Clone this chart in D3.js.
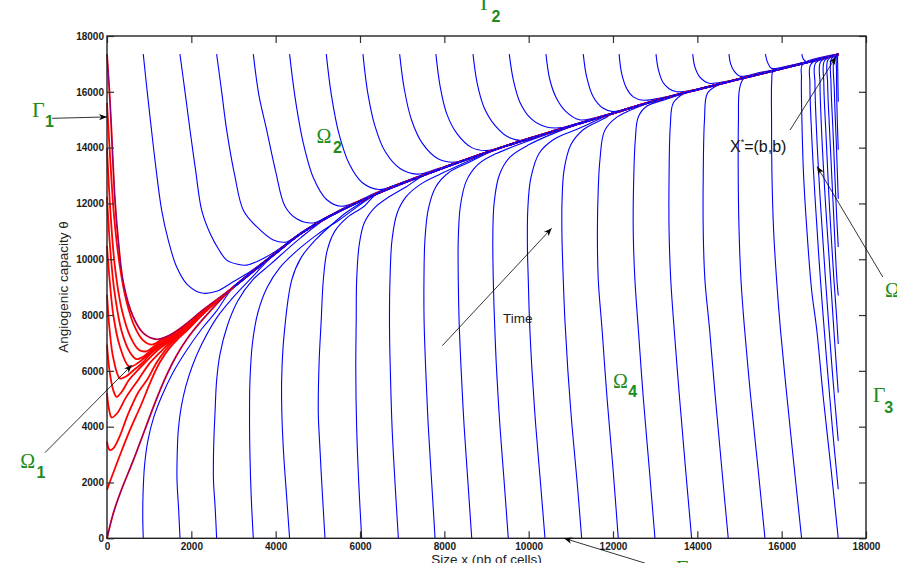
<!DOCTYPE html>
<html>
<head>
<meta charset="utf-8">
<script src="https://cdnjs.cloudflare.com/ajax/libs/d3/7.8.5/d3.min.js"></script>
<style>
  body { margin: 0; background: #fff; }
  svg { display: block; }
</style>
</head>
<body>
<div id="phasePortrait"></div>
<script>
// tick values of both axes
const xTicks = [0, 2000, 4000, 6000, 8000, 10000, 12000, 14000, 16000, 18000];
const yTicks = [0, 2000, 4000, 6000, 8000, 10000, 12000, 14000, 16000, 18000];

// common curve every trajectory ends on, up to the equilibrium X* = (b,b)
const manifold = [[1900,7600],[2245,8080],[3000,9000],[3944,10150],[4577,10900],[5288,11550],[6400,12350],[7541,13030],
  [9300,13980],[11216,14869],[12000,15230],[13000,15680],[14000,16080],[15000,16460],[16000,16830],[17342,17342]];

// red trajectories starting on Gamma1 (x = 0), first one starts at the origin
const redCurves = [
  [[0,0],[150,900],[320,1650],[625,2800],[900,3900],[1150,4900],[1400,5800],[1650,6550],[1900,7150],[2245,7800]],
  [[0,1735],[100,2150],[300,2950],[550,3900],[800,4750],[1050,5670],[1250,6300],[1500,6850],[1700,7170],[1900,7450],[2245,7990]],
  [[0,3470],[30,3250],[70,3160],[150,3220],[300,3650],[500,4450],[750,5250],[950,5680],[1200,6350],[1500,6950],[1700,7220],[1900,7470],[2245,8000]],
  [[0,5205],[40,4700],[111,4330],[250,4500],[450,5050],[750,5700],[1000,6250],[1250,6650],[1500,7020],[1700,7260],[1900,7490],[2245,8010]],
  [[0,6940],[60,6000],[150,5300],[228,5070],[350,5250],[520,5672],[750,6050],[1000,6450],[1250,6800],[1500,7070],[1700,7290],[1900,7510],[2245,8020]],
  [[0,8730],[60,7500],[150,6450],[308,5730],[450,5800],[650,6050],[850,6300],[1000,6560],[1250,6870],[1500,7110],[1700,7320],[1900,7530],[2245,8030]],
  [[0,10480],[60,9300],[150,8000],[300,6900],[530,6150],[750,6300],[1000,6620],[1250,6920],[1500,7150],[1700,7350],[1900,7550],[2245,8040]],
  [[0,12230],[80,10300],[180,8800],[350,7400],[550,6650],[700,6420],[850,6500],[1000,6680],[1250,6970],[1500,7190],[1700,7380],[1900,7570],[2245,8060]],
  [[0,13980],[90,11500],[190,9700],[350,8200],[560,7200],[760,6750],[930,6700],[1100,6860],[1300,7080],[1500,7230],[1700,7420],[1900,7600],[2245,8080]],
  [[0,15600],[80,13500],[170,11500],[300,9800],[460,8500],[650,7600],[850,7100],[1060,6940],[1300,7120],[1500,7280],[1700,7460],[1900,7640],[2245,8100]],
  [[0,17350],[70,15700],[190,12100],[260,10800],[390,9130],[620,7940],[860,7350],[1178,7130],[1400,7220],[1570,7350],[1890,7700],[2245,8150]]
];

// blue trajectories starting on Gamma2 (theta = b)
const topCurves = [
  [[860,17350],[940,16200],[1020,15100],[1150,13400],[1296,11760],[1450,10700],[1650,9730],[1900,9100],[2245,8790],[2600,8850],[3000,9200],[3400,9560],[3787,9990]],
  [[1730,17350],[1850,16000],[1968,14630],[2100,13200],[2245,11760],[2443,10930],[2650,10350],[2838,9970],[3100,9820],[3313,9790],[3600,9950],[3944,10230]],
  [[2600,17350],[2720,16000],[2838,14630],[3030,13000],[3233,11760],[3550,11165],[3944,10690],[4261,10620],[4577,10930]],
  [[3470,17350],[3600,15900],[3787,14630],[4000,13150],[4221,11900],[4498,11450],[4890,11300],[5288,11580]],
  [[4330,17350],[4460,15800],[4650,14200],[4900,12900],[5200,12150],[5550,11900],[5900,12050],[6400,12400]],
  [[5200,17350],[5320,15900],[5500,14500],[5750,13400],[6050,12750],[6450,12500],[6900,12700],[7541,13060]],
  [[6070,17350],[6180,16000],[6350,14800],[6600,13850],[6950,13250],[7350,13050],[7800,13220],[8400,13520]],
  [[6940,17350],[7050,16100],[7220,15000],[7480,14150],[7850,13600],[8250,13480],[8800,13730],[9300,14000]],
  [[7800,17350],[7900,16200],[8060,15200],[8300,14500],[8650,14000],[9050,13900],[9600,14150],[10200,14430]],
  [[8680,17350],[8780,16300],[8940,15450],[9200,14800],[9550,14350],[9950,14250],[10500,14570],[11216,14890]],
  [[9540,17350],[9640,16400],[9800,15600],[10050,15050],[10400,14750],[10800,14720],[11216,14890]],
  [[10410,17350],[10500,16450],[10650,15800],[10880,15300],[11200,15000],[11550,15060],[12000,15250]],
  [[11295,17350],[11374,16540],[11530,15823],[11768,15408],[12005,15290],[12500,15470]],
  [[12145,17350],[12205,16660],[12324,16120],[12480,15820],[12717,15700],[13200,15800]],
  [[13020,17350],[13075,16800],[13180,16350],[13330,16110],[13510,16000],[14000,16100]],
  [[13890,17350],[13940,16900],[14040,16560],[14170,16380],[14300,16300],[14700,16380]],
  [[14750,17350],[14790,17000],[14870,16750],[15010,16560],[15500,16700]],
  [[15615,17350],[15650,17120],[15700,16950],[15760,16840],[16300,16980]],
  [[16480,17350],[16510,17180],[16590,17080]]
];

// blue trajectories starting on Gamma4 (theta = 0)
const bottomCurves = [
  [[860,0],[848,800],[855,1600],[890,2600],[970,3500],[1100,4300],[1300,5100],[1550,5900],[1850,6650],[2245,7500],[2600,8150]],
  [[1731,0],[1700,1000],[1660,2100],[1665,3000],[1691,3880],[1760,4700],[1870,5450],[2030,6200],[2245,6950],[2601,7900],[3000,8650],[3500,9450]],
  [[2600,0],[2565,1100],[2525,2090],[2530,3300],[2561,4480],[2601,5672],[2680,6600],[2850,7600],[3100,8500],[3450,9250],[3900,9850],[4577,10750]],
  [[3470,0],[3420,1500],[3390,3000],[3380,4300],[3391,5672],[3450,7000],[3580,8100],[3800,9000],[4100,9700],[4500,10300],[5000,10900],[5500,11400]],
  [[4330,0],[4260,1500],[4190,3000],[4150,4300],[4142,5672],[4200,7300],[4380,9255],[4600,10050],[4950,10700],[5300,11200],[5700,11700]],
  [[5170,0],[5100,1800],[5040,3500],[5011,4480],[5030,6300],[5080,7800],[5130,9255],[5220,10300],[5400,11000],[5700,11500],[6100,11900]],
  [[6040,0],[5970,2000],[5920,4000],[5900,6000],[5910,7800],[5921,9255],[5980,10500],[6100,11300],[6350,11850],[6700,12250],[7100,12600]],
  [[6910,0],[6830,2000],[6760,4000],[6720,6000],[6700,7500],[6711,9255],[6760,10700],[6880,11650],[7100,12250],[7450,12700],[7900,13050]],
  [[7780,0],[7700,2000],[7620,4000],[7560,6000],[7520,7800],[7517,9255],[7540,10700],[7620,11800],[7800,12600],[8100,13100],[8550,13450]],
  [[8650,0],[8560,2000],[8470,4000],[8400,6000],[8350,7800],[8331,9255],[8330,10700],[8380,11900],[8520,12800],[8800,13400],[9250,13800]],
  [[9517,0],[9420,2000],[9320,4000],[9240,6000],[9190,7800],[9161,9255],[9150,10800],[9180,12000],[9300,13000],[9550,13650],[10000,14100]],
  [[10387,0],[10280,2000],[10170,4000],[10080,6000],[10020,7800],[9991,9255],[9970,10500],[9980,11800],[10050,12900],[10250,13800],[10600,14300],[11216,14700]],
  [[11257,0],[11150,2000],[11030,4000],[10930,6000],[10860,7800],[10821,9255],[10790,10800],[10790,12000],[10840,13200],[11000,14100],[11300,14650],[11800,15050]],
  [[12125,0],[12000,2500],[11860,5000],[11740,7500],[11651,9255],[11630,11000],[11650,12500],[11690,13555],[11800,14600],[12100,15100]],
  [[12995,0],[12860,2500],[12720,5000],[12600,7500],[12520,9255],[12480,11000],[12490,12800],[12530,14300],[12600,15100],[12800,15480],[13300,15750]],
  [[13865,0],[13720,2500],[13580,5000],[13450,7500],[13370,9255],[13330,11000],[13330,13000],[13360,14800],[13430,15600],[13700,15950],[14300,16170]],
  [[14733,0],[14580,2500],[14430,5000],[14290,7500],[14180,9255],[14140,11000],[14140,13000],[14170,15000],[14240,15950],[14500,16250],[15000,16440]],
  [[15604,0],[15440,2500],[15270,5000],[15120,7500],[15035,9255],[14990,11000],[14970,13000],[14975,15000],[15000,16100],[15100,16470],[15600,16680]],
  [[16473,0],[16300,2500],[16130,5000],[15970,7500],[15880,9255],[15810,11000],[15770,13000],[15760,15000],[15765,16400],[15800,16740],[16300,16940]],
  [[17342,0],[17170,2500],[16990,5000],[16830,7500],[16710,8900],[16600,11000],[16520,13000],[16480,15000],[16470,16500],[16500,17000]]
];

// blue trajectories starting on Gamma3 (x = b)
const sideCurves = [
  [[17342,1760],[17200,4000],[17060,6500],[16920,9255],[16800,12000],[16710,14500],[16670,16300],[16700,17000]],
  [[17342,3490],[17200,6000],[17040,9255],[16920,12000],[16830,14500],[16790,16300],[16810,17040]],
  [[17342,5220],[17250,7200],[17160,9255],[17040,12000],[16950,14500],[16910,16300],[16930,17090]],
  [[17342,6960],[17300,8000],[17240,9255],[17130,12000],[17050,14500],[17000,16300],[17020,17120]],
  [[17342,8700],[17310,9255],[17220,12000],[17140,14500],[17090,16300],[17100,17150]],
  [[17342,10440],[17290,12000],[17220,14500],[17170,16300],[17180,17180]],
  [[17342,12170],[17300,14000],[17250,16000],[17245,17200]],
  [[17342,13920],[17310,15500],[17300,16800],[17300,17260]],
  [[17342,15640],[17330,16800],[17330,17300]]
];

// chart size, the plot box sits where the original axes were
const width = 897, height = 563;
const x = d3.scaleLinear().domain([0, 18000]).range([107, 866]);
const y = d3.scaleLinear().domain([0, 18000]).range([538.3, 36]);

const svg = d3.select("#phasePortrait")
  .append("svg")
  .attr("width", width)
  .attr("height", height)
  .style("font-family", "'Liberation Sans', Arial, sans-serif");

// arrow head for the annotations
svg.append("defs").append("marker")
  .attr("id", "arrowHead")
  .attr("viewBox", "0 0 10 10")
  .attr("refX", 10).attr("refY", 5)
  .attr("markerWidth", 8).attr("markerHeight", 8)
  .attr("markerUnits", "userSpaceOnUse")
  .attr("orient", "auto")
  .append("path")
  .attr("d", "M0,1 L10,5 L0,9 L3,5 Z")
  .attr("fill", "#000");

const line = d3.line()
  .x(d => x(d[0]))
  .y(d => y(d[1]))
  .curve(d3.curveCatmullRom.alpha(0.5));

// every trajectory goes on along the common curve once it reached it
function withTail(points) {
  const last = points[points.length - 1];
  let tail = manifold.filter(p => p[0] > last[0] + 150);
  if (!tail.length) tail = [manifold[manifold.length - 1]];
  return points.concat(tail);
}

const curves = svg.append("g").attr("fill", "none");

curves.selectAll(".blue")
  .data(topCurves.concat(bottomCurves, sideCurves))
  .enter()
  .append("path")
    .attr("class", "blue")
    .attr("d", d => line(withTail(d)))
    .attr("stroke", "#0000ff")
    .attr("stroke-width", 1.1);

curves.selectAll(".red")
  .data(redCurves)
  .enter()
  .append("path")
    .attr("class", "red")
    .attr("d", d => line(withTail(d)))
    .attr("stroke", "#ff0000")
    .attr("stroke-width", 1.8);

// the curves from the origin and from the top left corner are drawn in both colours
curves.selectAll(".both")
  .data([redCurves[0], redCurves[redCurves.length - 1]])
  .enter()
  .append("path")
    .attr("d", d => line(withTail(d)))
    .attr("stroke", "#2a00e0")
    .attr("stroke-width", 0.8)
    .attr("stroke-opacity", 0.8);

// the common curve looks thick since all trajectories pile up on it
curves.append("path")
  .attr("d", line(manifold.slice(2)))
  .attr("stroke", "#0000ff")
  .attr("stroke-width", 2.2);
curves.append("path")
  .attr("d", line(manifold.slice(2)))
  .attr("stroke", "#ff2020")
  .attr("stroke-width", 0.7)
  .attr("stroke-dasharray", "1.5,5");

/******* axes in matlab style: box with inner ticks on all sides *******/
function styleAxis(g) {
  g.select(".domain").remove();
  g.selectAll(".tick line").attr("stroke", "#333").attr("stroke-width", 1.2);
  g.selectAll(".tick text")
    .attr("fill", "#1a1a1a")
    .style("font-size", "10px")
    .style("font-weight", "bold");
}

svg.append("g")
  .attr("transform", `translate(0, ${y(0)})`)
  .call(d3.axisBottom(x).tickValues(xTicks).tickSize(-7).tickSizeOuter(0).tickPadding(5).tickFormat(d3.format("d")))
  .call(styleAxis);

svg.append("g")
  .attr("transform", `translate(${x(0)}, 0)`)
  .call(d3.axisLeft(y).tickValues(yTicks).tickSize(-7).tickSizeOuter(0).tickPadding(3).tickFormat(d3.format("d")))
  .call(styleAxis);

svg.append("g")
  .attr("transform", `translate(0, ${y(18000)})`)
  .call(d3.axisTop(x).tickValues(xTicks).tickSize(-7).tickSizeOuter(0).tickFormat(""))
  .call(styleAxis);

svg.append("g")
  .attr("transform", `translate(${x(18000)}, 0)`)
  .call(d3.axisRight(y).tickValues(yTicks).tickSize(-7).tickSizeOuter(0).tickFormat(""))
  .call(styleAxis);

svg.append("rect")
  .attr("x", x(0)).attr("y", y(18000))
  .attr("width", x(18000) - x(0)).attr("height", y(0) - y(18000))
  .attr("fill", "none")
  .attr("stroke", "#222")
  .attr("stroke-width", 1.4);

// axis titles
svg.append("text")
  .attr("x", x(9000)).attr("y", 563.5)
  .attr("text-anchor", "middle")
  .style("font-size", "13.5px")
  .attr("fill", "#222")
  .text("Size x (nb of cells)");

svg.append("text")
  .attr("transform", `translate(68, 287) rotate(-90)`)
  .attr("text-anchor", "middle")
  .style("font-size", "13.5px")
  .attr("fill", "#222")
  .text("Angiogenic capacity θ");

/******* annotations: region and boundary names, arrows *******/
const green = "#1e8c1e";

function greekLabel(pos, glyph, subPos, sub, size) {
  svg.append("text")
    .attr("x", x(pos[0])).attr("y", y(pos[1]))
    .style("font-family", "'Liberation Serif', 'Times New Roman', serif")
    .style("font-size", size + "px")
    .attr("fill", green)
    .text(glyph);
  if (sub) {
    svg.append("text")
      .attr("x", x(subPos[0])).attr("y", y(subPos[1]))
      .style("font-size", "16px")
      .style("font-weight", "bold")
      .attr("fill", green)
      .text(sub);
  }
}

function arrow(from, to) {
  svg.append("line")
    .attr("x1", x(from[0])).attr("y1", y(from[1]))
    .attr("x2", x(to[0])).attr("y2", y(to[1]))
    .attr("stroke", "#000")
    .attr("stroke-width", 0.8)
    .attr("marker-end", "url(#arrowHead)");
}

greekLabel([-1780, 15100], "Γ", [-1470, 14740], "1", 22);
arrow([-1300, 15050], [0, 15100]);

greekLabel([8850, 18930], "Γ", [9120, 18510], "2", 22);

greekLabel([4970, 14150], "Ω", [5360, 13800], "2", 20);

greekLabel([-2060, 2520], "Ω", [-1670, 2160], "1", 20);
arrow([-1470, 3070], [590, 6210]);

greekLabel([12000, 5390], "Ω", [12360, 5060], "4", 20);

greekLabel([18160, 4900], "Γ", [18430, 4490], "3", 22);

greekLabel([18450, 8650], "Ω", null, null, 20);
arrow([18400, 9360], [16840, 13320]);

greekLabel([13490, -1320], "Γ", null, null, 22);
arrow([12760, -890], [10840, 0]);

// equilibrium point
const xStar = svg.append("text")
  .attr("x", x(14775)).attr("y", y(13840))
  .style("font-size", "16px")
  .attr("fill", "#111");
xStar.append("tspan").text("X");
xStar.append("tspan").attr("dy", -7).style("font-size", "9px").text("*");
xStar.append("tspan").attr("dy", 7).text("=(b,b)");
arrow([16200, 14630], [17290, 17260]);

svg.append("text")
  .attr("x", x(9390)).attr("y", y(7715))
  .style("font-size", "13.5px")
  .attr("fill", "#222")
  .text("Time");
arrow([7950, 6900], [10545, 11110]);
</script>
</body>
</html>
